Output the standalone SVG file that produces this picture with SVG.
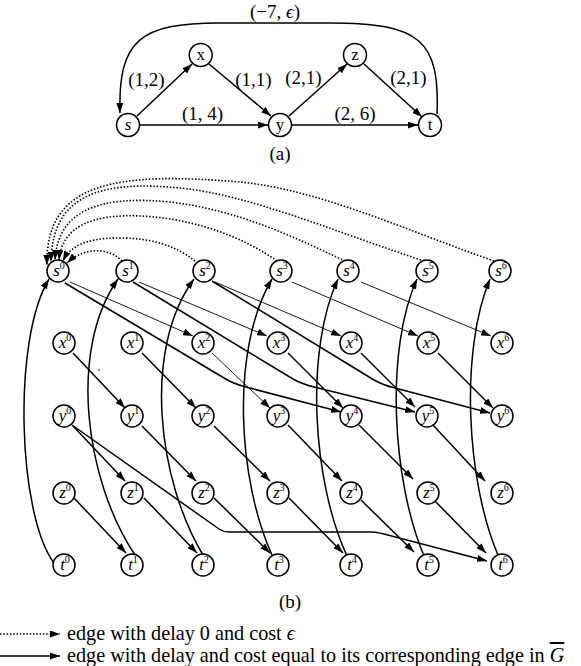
<svg xmlns="http://www.w3.org/2000/svg" width="581" height="666" viewBox="0 0 581 666">
<style>
.e{fill:none;stroke:#000;stroke-width:1.5}
.thin{fill:none;stroke:#000;stroke-width:0.9}
.dot{fill:none;stroke:#000;stroke-width:1.6;stroke-dasharray:1.5 1.8}
.n circle{fill:#fff;stroke:#000;stroke-width:1.5}
text{font-family:"Liberation Serif","DejaVu Serif",serif;fill:#000}
.nl{font-size:17px;text-anchor:middle}
.it{font-style:italic}
.sup{font-size:10px;font-style:normal}
.el{font-size:19px;text-anchor:middle}
.lg{font-size:20.2px}
</style>
<defs>
<marker id="ah" markerUnits="userSpaceOnUse" markerWidth="10" markerHeight="7" refX="10" refY="3.5" orient="auto"><path d="M0,0 L10,3.5 L0,7 z" fill="#000"/></marker>
</defs>

<!-- Part (a) -->
<g id="connectors-a">
<path class="e" marker-end="url(#ah)" d="M137,116 L192,64"/>
<path class="e" marker-end="url(#ah)" d="M209,64 L271,116"/>
<path class="e" marker-end="url(#ah)" d="M289,116 L347,64"/>
<path class="e" marker-end="url(#ah)" d="M364,64 L422,117"/>
<path class="e" marker-end="url(#ah)" d="M140,125 L268,125"/>
<path class="e" marker-end="url(#ah)" d="M292,125 L418,125"/>
<path class="e" marker-end="url(#ah)" d="M437,114 C440,40 420,23 330,23 L220,23 C140,23 118,40 120,113"/>
</g>
<g id="labels-a">
<text class="el" x="275" y="18">(−7, <tspan class="it">ϵ</tspan>)</text>
<text class="el" x="146.5" y="86">(1,2)</text>
<text class="el" x="253.5" y="86">(1,1)</text>
<text class="el" x="303.5" y="84">(2,1)</text>
<text class="el" x="408.5" y="84">(2,1)</text>
<text class="el" x="202.5" y="120">(1, 4)</text>
<text class="el" x="355" y="120">(2, 6)</text>
<text class="el" x="280" y="160">(a)</text>
</g>
<g id="a-s" class="n"><circle cx="128" cy="125" r="11.5"/><text class="nl it" x="128" y="130">s</text></g>
<g id="a-x" class="n"><circle cx="200.7" cy="55" r="11.5"/><text class="nl" x="200.7" y="60">x</text></g>
<g id="a-y" class="n"><circle cx="280" cy="125" r="11.5"/><text class="nl" x="280" y="130">y</text></g>
<g id="a-z" class="n"><circle cx="355" cy="55" r="11.5"/><text class="nl" x="355" y="60">z</text></g>
<g id="a-t" class="n"><circle cx="430" cy="125" r="11.5"/><text class="nl" x="430" y="130">t</text></g>

<!-- Part (b) -->
<g id="connectors-b">
<!-- dotted s^k -> s^0 -->
<path class="dot" marker-end="url(#ah)" d="M122,261 C110,248 85,246 67,263"/>
<path class="dot" marker-end="url(#ah)" d="M195,261 C175,245 150,238 120,238 C95,238 72,242 63,261"/>
<path class="dot" marker-end="url(#ah)" d="M277,261 C240,235 190,218 140,216 C95,214 62,225 59,260"/>
<path class="dot" marker-end="url(#ah)" d="M345,261 C300,240 240,210 170,202 C100,195 58,210 55,260"/>
<path class="dot" marker-end="url(#ah)" d="M421,260 C330,230 250,195 180,188 C100,180 52,195 51,262"/>
<path class="dot" marker-end="url(#ah)" d="M494,261 C400,228 320,190 240,182 C120,172 45,180 47,265"/>
<!-- t^k -> s^k arcs -->
<path class="e" marker-end="url(#ah)" d="M54,563 C18,515 12,340 49,279"/>
<path class="e" marker-end="url(#ah)" d="M135,555 C85,480 68,350 118,279"/>
<path class="e" marker-end="url(#ah)" d="M203,555 C158,480 142,350 194,279"/>
<path class="e" marker-end="url(#ah)" d="M272,555 C238,480 230,350 272,279"/>
<path class="e" marker-end="url(#ah)" d="M347,556 C312,480 305,350 338,279"/>
<path class="e" marker-end="url(#ah)" d="M424,556 C392,480 385,350 417,279"/>
<path class="e" marker-end="url(#ah)" d="M498,555 C466,480 460,350 490,279"/>
<!-- s -> x (thin) -->
<path class="thin" marker-end="url(#ah)" d="M70,282 L193,336"/>
<path class="thin" marker-end="url(#ah)" d="M139,282 L267,336"/>
<path class="thin" marker-end="url(#ah)" d="M215,282 L341,336"/>
<path class="thin" marker-end="url(#ah)" d="M292,282 L418,336"/>
<path class="thin" marker-end="url(#ah)" d="M361,282 L491,336"/>
<!-- x -> y -->
<path class="e" marker-end="url(#ah)" d="M73,353 L125,408"/>
<path class="e" marker-end="url(#ah)" d="M142,353 L196,408"/>
<path class="thin" marker-end="url(#ah)" d="M212,353 L270,408"/>
<path class="e" marker-end="url(#ah)" d="M288,353 L343,408"/>
<path class="e" marker-end="url(#ah)" d="M361,353 L415,407"/>
<path class="e" marker-end="url(#ah)" d="M438,353 L493,408"/>
<!-- y -> z -->
<path class="e" marker-end="url(#ah)" d="M73,426 L125,481"/>
<path class="e" marker-end="url(#ah)" d="M142,426 L196,481"/>
<path class="e" marker-end="url(#ah)" d="M214,426 L270,481"/>
<path class="e" marker-end="url(#ah)" d="M288,425 L342,481"/>
<path class="e" marker-end="url(#ah)" d="M359,425 L413,479"/>
<path class="e" marker-end="url(#ah)" d="M433,425 L485,481"/>
<!-- z -> t -->
<path class="e" marker-end="url(#ah)" d="M74,498 L126,553"/>
<path class="e" marker-end="url(#ah)" d="M144,498 L197,553"/>
<path class="e" marker-end="url(#ah)" d="M214,498 L270,553"/>
<path class="e" marker-end="url(#ah)" d="M289,498 L343,553"/>
<path class="e" marker-end="url(#ah)" d="M361,500 L414,552"/>
<path class="e" marker-end="url(#ah)" d="M432,498 L486,553"/>
<!-- s -> y (bent) -->
<path class="e" marker-end="url(#ah)" d="M65,283 L224,378 C232,383 238,385 246,387 L341,412"/>
<path class="e" marker-end="url(#ah)" d="M133,282 L293,379 C300,383 306,385 314,387 L415,412"/>
<path class="e" marker-end="url(#ah)" d="M212,281 L374,380 C381,384 387,386 395,388 L490,413"/>
<!-- y0 -> t6 -->
<path class="e" marker-end="url(#ah)" d="M72,425 L219,529 C222,531 225,532 229,532 L372,532 C376,532 380,533 384,534 L487,561"/>
</g>
<circle cx="99" cy="370" r="0.8" fill="#000"/>

<g id="s0" class="n"><circle cx="58" cy="271" r="11"/><text class="nl it" x="59" y="276">s<tspan class="sup" dy="-7">0</tspan></text></g>
<g id="s1" class="n"><circle cx="127" cy="271" r="11"/><text class="nl it" x="128" y="276">s<tspan class="sup" dy="-7">1</tspan></text></g>
<g id="s2" class="n"><circle cx="204" cy="271" r="11"/><text class="nl it" x="205" y="276">s<tspan class="sup" dy="-7">2</tspan></text></g>
<g id="s3" class="n"><circle cx="281" cy="271" r="11"/><text class="nl it" x="282" y="276">s<tspan class="sup" dy="-7">3</tspan></text></g>
<g id="s4" class="n"><circle cx="348" cy="271" r="11"/><text class="nl it" x="349" y="276">s<tspan class="sup" dy="-7">4</tspan></text></g>
<g id="s5" class="n"><circle cx="427" cy="271" r="11"/><text class="nl it" x="428" y="276">s<tspan class="sup" dy="-7">5</tspan></text></g>
<g id="s6" class="n"><circle cx="500" cy="271" r="11"/><text class="nl it" x="501" y="276">s<tspan class="sup" dy="-7">6</tspan></text></g>

<g id="x0" class="n"><circle cx="64" cy="343" r="11"/><text class="nl it" x="65" y="348">x<tspan class="sup" dy="-7">0</tspan></text></g>
<g id="x1" class="n"><circle cx="132" cy="343" r="11"/><text class="nl it" x="133" y="348">x<tspan class="sup" dy="-7">1</tspan></text></g>
<g id="x2" class="n"><circle cx="203" cy="343" r="11"/><text class="nl it" x="204" y="348">x<tspan class="sup" dy="-7">2</tspan></text></g>
<g id="x3" class="n"><circle cx="278" cy="343" r="11"/><text class="nl it" x="279" y="348">x<tspan class="sup" dy="-7">3</tspan></text></g>
<g id="x4" class="n"><circle cx="351" cy="343" r="11"/><text class="nl it" x="352" y="348">x<tspan class="sup" dy="-7">4</tspan></text></g>
<g id="x5" class="n"><circle cx="428" cy="343" r="11"/><text class="nl it" x="429" y="348">x<tspan class="sup" dy="-7">5</tspan></text></g>
<g id="x6" class="n"><circle cx="502" cy="343" r="11"/><text class="nl it" x="503" y="348">x<tspan class="sup" dy="-7">6</tspan></text></g>

<g id="y0" class="n"><circle cx="64" cy="416" r="11"/><text class="nl it" x="65" y="421">y<tspan class="sup" dy="-7">0</tspan></text></g>
<g id="y1" class="n"><circle cx="132" cy="416" r="11"/><text class="nl it" x="133" y="421">y<tspan class="sup" dy="-7">1</tspan></text></g>
<g id="y2" class="n"><circle cx="203" cy="416" r="11"/><text class="nl it" x="204" y="421">y<tspan class="sup" dy="-7">2</tspan></text></g>
<g id="y3" class="n"><circle cx="278" cy="416" r="11"/><text class="nl it" x="279" y="421">y<tspan class="sup" dy="-7">3</tspan></text></g>
<g id="y4" class="n"><circle cx="351" cy="416" r="11"/><text class="nl it" x="352" y="421">y<tspan class="sup" dy="-7">4</tspan></text></g>
<g id="y5" class="n"><circle cx="427" cy="416" r="11"/><text class="nl it" x="428" y="421">y<tspan class="sup" dy="-7">5</tspan></text></g>
<g id="y6" class="n"><circle cx="502" cy="416" r="11"/><text class="nl it" x="503" y="421">y<tspan class="sup" dy="-7">6</tspan></text></g>

<g id="z0" class="n"><circle cx="64" cy="493" r="11"/><text class="nl it" x="65" y="498">z<tspan class="sup" dy="-7">0</tspan></text></g>
<g id="z1" class="n"><circle cx="132" cy="493" r="11"/><text class="nl it" x="133" y="498">z<tspan class="sup" dy="-7">1</tspan></text></g>
<g id="z2" class="n"><circle cx="203" cy="493" r="11"/><text class="nl it" x="204" y="498">z<tspan class="sup" dy="-7">2</tspan></text></g>
<g id="z3" class="n"><circle cx="278" cy="493" r="11"/><text class="nl it" x="279" y="498">z<tspan class="sup" dy="-7">3</tspan></text></g>
<g id="z4" class="n"><circle cx="351" cy="493" r="11"/><text class="nl it" x="352" y="498">z<tspan class="sup" dy="-7">4</tspan></text></g>
<g id="z5" class="n"><circle cx="428" cy="493" r="11"/><text class="nl it" x="429" y="498">z<tspan class="sup" dy="-7">5</tspan></text></g>
<g id="z6" class="n"><circle cx="502" cy="493" r="11"/><text class="nl it" x="503" y="498">z<tspan class="sup" dy="-7">6</tspan></text></g>

<g id="t0" class="n"><circle cx="64" cy="565" r="11"/><text class="nl it" x="65" y="570">t<tspan class="sup" dy="-7">0</tspan></text></g>
<g id="t1" class="n"><circle cx="132" cy="565" r="11"/><text class="nl it" x="133" y="570">t<tspan class="sup" dy="-7">1</tspan></text></g>
<g id="t2" class="n"><circle cx="203" cy="565" r="11"/><text class="nl it" x="204" y="570">t<tspan class="sup" dy="-7">2</tspan></text></g>
<g id="t3" class="n"><circle cx="278" cy="565" r="11"/><text class="nl it" x="279" y="570">t<tspan class="sup" dy="-7">3</tspan></text></g>
<g id="t4" class="n"><circle cx="351" cy="565" r="11"/><text class="nl it" x="352" y="570">t<tspan class="sup" dy="-7">4</tspan></text></g>
<g id="t5" class="n"><circle cx="428" cy="565" r="11"/><text class="nl it" x="429" y="570">t<tspan class="sup" dy="-7">5</tspan></text></g>
<g id="t6" class="n"><circle cx="502" cy="565" r="11"/><text class="nl it" x="503" y="570">t<tspan class="sup" dy="-7">6</tspan></text></g>

<text class="el" x="290" y="608">(b)</text>

<g id="legend">
<path class="dot" marker-end="url(#ah)" d="M0,634 L60,634"/>
<path class="e" marker-end="url(#ah)" d="M0,656 L60,656"/>
<text class="lg" x="67" y="640">edge with delay 0 and cost <tspan class="it">ϵ</tspan></text>
<text class="lg" x="67" y="662">edge with delay and cost equal to its corresponding edge in <tspan class="it" style="text-decoration:overline">G</tspan></text>
</g>
</svg>
